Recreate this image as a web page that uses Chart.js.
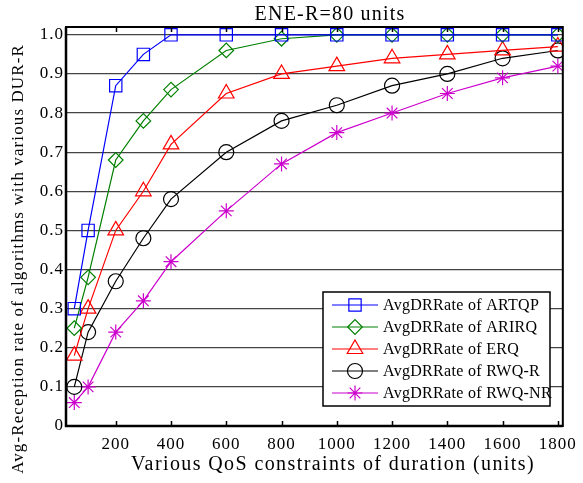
<!DOCTYPE html>
<html>
<head>
<meta charset="utf-8">
<script src="https://cdn.jsdelivr.net/npm/chart.js@4.4.1/dist/chart.umd.min.js"></script>
<style>
html, body { margin: 0; padding: 0; background: #fff; }
#wrap { width: 583px; height: 483px; }
</style>
</head>
<body>
<div id="wrap"><canvas id="lineChart"></canvas></div>
<script>
const durations = [50, 100, 200, 300, 400, 600, 800, 1000, 1200, 1400, 1600, 1800];
const artqp = [0.30, 0.50, 0.87, 0.95, 1.0, 1.0, 1.0, 1.0, 1.0, 1.0, 1.0, 1.0];
const arirq = [0.25, 0.38, 0.68, 0.78, 0.86, 0.96, 0.99, 1.0, 1.0, 1.0, 1.0, 1.0];
const erq = [0.18, 0.30, 0.50, 0.60, 0.72, 0.85, 0.90, 0.92, 0.94, 0.95, 0.96, 0.97];
const rwqR = [0.10, 0.24, 0.37, 0.48, 0.58, 0.70, 0.78, 0.82, 0.87, 0.90, 0.94, 0.96];
const rwqNR = [0.06, 0.10, 0.24, 0.32, 0.42, 0.55, 0.67, 0.75, 0.80, 0.85, 0.89, 0.92];
const xTicks = [200, 400, 600, 800, 1000, 1200, 1400, 1600, 1800];
const yTicks = [0, 0.1, 0.2, 0.3, 0.4, 0.5, 0.6, 0.7, 0.8, 0.9, 1.0];

const titleText = 'ENE-R=80 units';
const xTitle = 'Various QoS constraints of duration (units)';
const yTitle = 'Avg-Reception rate of algorithms with various DUR-R';

const serif = '"Liberation Serif", "Times New Roman", serif';

function series(label, values, color, style, radius) {
    return {
        label: label,
        data: durations.map((d, i) => ({ x: d, y: values[i] })),
        borderColor: color,
        backgroundColor: 'transparent',
        borderWidth: 1.2,
        pointStyle: style,
        pointRadius: radius,
        pointHoverRadius: radius,
        pointBorderColor: color,
        pointBackgroundColor: 'transparent',
        pointBorderWidth: 1.2,
        tension: 0
    };
}

// texts, frame, inward ticks and the boxed legend inside the plot
const paperLook = {
    id: 'paperLook',
    beforeDraw(chart) {
        chart.ctx.letterSpacing = '1px';
    },
    afterDraw(chart) {
        const ctx = chart.ctx;
        const a = chart.chartArea;
        const xs = chart.scales.x;

        ctx.save();
        ctx.strokeStyle = '#000';
        ctx.lineWidth = 1.5;
        xTicks.forEach(v => {
            const px = Math.round(xs.getPixelForValue(v)) + 0.5;
            ctx.beginPath();
            ctx.moveTo(px, a.bottom);
            ctx.lineTo(px, a.bottom - 5);
            ctx.moveTo(px, a.top);
            ctx.lineTo(px, a.top + 5);
            ctx.stroke();
        });
        ctx.lineWidth = 2;
        ctx.strokeRect(a.left, a.top, a.right - a.left, a.bottom - a.top);
        ctx.lineWidth = 2.5;
        ctx.beginPath();
        ctx.moveTo(a.left, a.top);
        ctx.lineTo(a.left, a.bottom);
        ctx.lineTo(a.right, a.bottom);
        ctx.stroke();

        ctx.fillStyle = '#000';
        ctx.textAlign = 'center';
        ctx.textBaseline = 'alphabetic';
        ctx.font = '20px ' + serif;
        ctx.letterSpacing = '1.2px';
        ctx.fillText(titleText, 330, 20);
        ctx.letterSpacing = '1.4px';
        ctx.fillText(xTitle, 333, 470);

        ctx.save();
        ctx.translate(23, 259);
        ctx.rotate(-Math.PI / 2);
        ctx.font = '17px ' + serif;
        ctx.letterSpacing = '1.1px';
        ctx.fillText(yTitle, 0, 0);
        ctx.restore();

        // legend
        const lx = 323, ly = 292, lw = 227, lh = 114, rowH = 22;
        ctx.fillStyle = '#fff';
        ctx.fillRect(lx, ly, lw, lh);
        ctx.strokeStyle = '#000';
        ctx.lineWidth = 1.5;
        ctx.strokeRect(lx, ly, lw, lh);
        ctx.font = '16px ' + serif;
        ctx.letterSpacing = '0.3px';
        ctx.textAlign = 'left';
        ctx.textBaseline = 'middle';
        chart.data.datasets.forEach((ds, i) => {
            const y = ly + 13 + i * rowH;
            ctx.strokeStyle = ds.borderColor;
            ctx.lineWidth = ds.borderWidth;
            ctx.beginPath();
            ctx.moveTo(lx + 9, y);
            ctx.lineTo(lx + 55, y);
            ctx.stroke();
            ctx.fillStyle = 'rgba(0,0,0,0)';
            Chart.helpers.drawPoint(ctx, {
                pointStyle: ds.pointStyle,
                radius: ds.pointRadius,
                rotation: 0,
                borderWidth: ds.pointBorderWidth
            }, lx + 32, y);
            ctx.fillStyle = '#000';
            ctx.fillText(ds.label, lx + 60, y + 1);
        });
        ctx.restore();
    }
};

new Chart(document.getElementById('lineChart'), {
    type: 'line',
    data: {
        datasets: [
            series('AvgDRRate of ARTQP', artqp, '#0000ff', 'rect', 8.7),
            series('AvgDRRate of ARIRQ', arirq, '#008000', 'rectRot', 7.3),
            series('AvgDRRate of ERQ', erq, '#ff0000', 'triangle', 9),
            series('AvgDRRate of RWQ-R', rwqR, '#000000', 'circle', 7.5),
            series('AvgDRRate of RWQ-NR', rwqNR, '#cc00cc', 'star', 7.5)
        ]
    },
    options: {
        responsive: true,
        maintainAspectRatio: false,
        animation: false,
        events: [],
        layout: { padding: { top: 27, right: 15, bottom: 0, left: 0 } },
        plugins: {
            legend: { display: false },
            title: { display: false },
            tooltip: { enabled: false }
        },
        scales: {
            x: {
                type: 'linear',
                min: 20,
                max: 1818,
                afterBuildTicks: s => { s.ticks = xTicks.map(v => ({ value: v })); },
                afterFit: s => { s.height = 57; },
                grid: { display: false, drawTicks: false },
                border: { display: false },
                ticks: {
                    padding: 8,
                    color: '#000',
                    maxRotation: 0,
                    autoSkip: false,
                    font: { family: serif, size: 17 },
                    callback: v => String(v)
                }
            },
            y: {
                type: 'linear',
                min: 0,
                max: 1.02,
                afterBuildTicks: s => { s.ticks = yTicks.map(v => ({ value: v })); },
                afterFit: s => { s.width = 66; },
                grid: { color: '#444', lineWidth: 1.2, drawTicks: false },
                border: { display: false },
                ticks: {
                    padding: 2,
                    color: '#000',
                    autoSkip: false,
                    font: { family: serif, size: 17 },
                    callback: v => v === 0 ? '0' : v.toFixed(1)
                }
            }
        }
    },
    plugins: [paperLook]
});
</script>
</body>
</html>
